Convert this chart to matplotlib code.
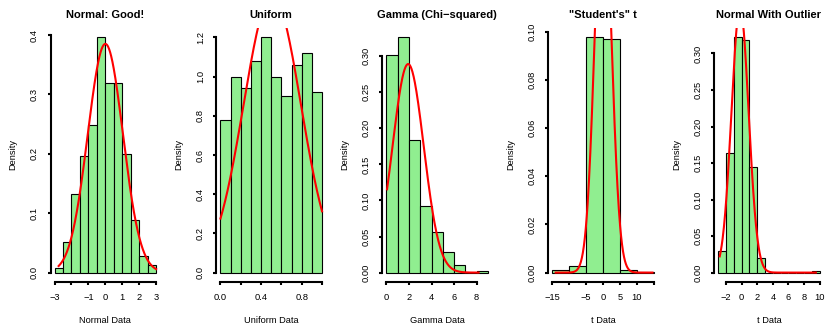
"""Five histograms with fitted normal curves, R base-graphics look."""
import numpy as np
import matplotlib

matplotlib.use("Agg")
import matplotlib.pyplot as plt  # noqa: E402

plt.rcParams["font.family"] = ["Liberation Sans", "DejaVu Sans"]

MINUS = "\u2212"

titles = ["Normal: Good!", "Uniform", f"Gamma (Chi{MINUS}squared)", "\"Student's\" t", "Normal With Outlier"]
xlabels = ["Normal Data", "Uniform Data", "Gamma Data", "t Data", "t Data"]

# bin edges and density heights
normal_edges = [-3, -2.5, -2, -1.5, -1, -0.5, 0, 0.5, 1, 1.5, 2, 2.5, 3]
normal_dens = [0.008, 0.052, 0.132, 0.196, 0.248, 0.396, 0.32, 0.32, 0.2, 0.088, 0.028, 0.012]
uniform_edges = [0, 0.1, 0.2, 0.3, 0.4, 0.5, 0.6, 0.7, 0.8, 0.9, 1.0]
uniform_dens = [0.78, 1.0, 0.94, 1.08, 1.2, 1.0, 0.9, 1.06, 1.12, 0.92]
gamma_edges = [0, 1, 2, 3, 4, 5, 6, 7, 8, 9]
gamma_dens = [0.302, 0.326, 0.184, 0.092, 0.056, 0.028, 0.01, 0.0, 0.002]
t_edges = [-15, -10, -5, 0, 5, 10, 15]
t_dens = [0.0012, 0.0028, 0.0976, 0.0968, 0.0012, 0.0004]
outlier_edges = [-3, -2, -1, 0, 1, 2, 3, 4, 5, 6, 7, 8, 9, 10]
outlier_dens = [0.03, 0.164, 0.322, 0.318, 0.144, 0.02, 0, 0, 0, 0, 0, 0, 0.002]

# fitted normal: sample mean, sample sd, data min, data max
fit_mean = [0.0, 0.51, 1.93, 0.0, -0.2]
fit_sd = [1.036, 0.282, 1.38, 2.44, 1.1]
data_min = [-2.76, 0.0, 0.06, -14.0, -2.8]
data_max = [3.0, 1.0, 8.17, 14.6, 9.5]

# axis ticks and the labels R kept after dropping overlaps
xticks = [
    [-3, -2, -1, 0, 1, 2, 3],
    [0, 0.2, 0.4, 0.6, 0.8, 1.0],
    [0, 2, 4, 6, 8],
    [-15, -10, -5, 0, 5, 10, 15],
    [-2, 0, 2, 4, 6, 8, 10],
]
xticklabels = [
    [f"{MINUS}3", "", f"{MINUS}1", "0", "1", "2", "3"],
    ["0.0", "", "0.4", "", "0.8", ""],
    ["0", "2", "4", "6", "8"],
    [f"{MINUS}15", "", f"{MINUS}5", "0", "5", "10", ""],
    [f"{MINUS}2", "0", "2", "4", "6", "8", "10"],
]
yticks = [
    [0.0, 0.1, 0.2, 0.3, 0.4],
    [0.0, 0.2, 0.4, 0.6, 0.8, 1.0, 1.2],
    [0.0, 0.05, 0.10, 0.15, 0.20, 0.25, 0.30],
    [0.0, 0.02, 0.04, 0.06, 0.08, 0.10],
    [0.0, 0.05, 0.10, 0.15, 0.20, 0.25, 0.30],
]
ytick_fmt = ["{:.1f}", "{:.1f}", "{:.2f}", "{:.2f}", "{:.2f}"]

edges_all = [normal_edges, uniform_edges, gamma_edges, t_edges, outlier_edges]
dens_all = [normal_dens, uniform_dens, gamma_dens, t_dens, outlier_dens]


def norm_pdf(x, mu, sd):
    return np.exp(-0.5 * ((x - mu) / sd) ** 2) / (sd * np.sqrt(2 * np.pi))


def r_range(lo, hi):
    # R's default 4% axis extension
    pad = (hi - lo) * 0.04
    return lo - pad, hi + pad


W, H = 826, 326
fig = plt.figure(figsize=(W / 100, H / 100), dpi=100)

for i in range(5):
    left = (50.5 + 165.9 * i) / W
    ax = fig.add_axes([left, (H - 282) / H, 109.7 / W, 254 / H])
    edges = np.array(edges_all[i], dtype=float)
    dens = np.array(dens_all[i], dtype=float)
    ax.bar(edges[:-1], dens, width=np.diff(edges), align="edge",
           color="#90EE90", edgecolor="black", linewidth=0.8, zorder=2)

    xs = np.linspace(data_min[i], data_max[i], 300)
    ax.plot(xs, norm_pdf(xs, fit_mean[i], fit_sd[i]), color="red", lw=1.5, zorder=3)

    ax.set_xlim(*r_range(edges[0], edges[-1]))
    ax.set_ylim(*r_range(0, dens.max()))

    for side in ("top", "right"):
        ax.spines[side].set_visible(False)
    for side in ("left", "bottom"):
        ax.spines[side].set_linewidth(1.5)
    ax.spines["bottom"].set_bounds(xticks[i][0], xticks[i][-1])
    ax.spines["left"].set_bounds(yticks[i][0], yticks[i][-1])

    ax.set_xticks(xticks[i])
    ax.set_xticklabels(xticklabels[i])
    ax.set_yticks(yticks[i])
    ax.set_yticklabels([ytick_fmt[i].format(v) for v in yticks[i]], rotation=90, va="center")
    ax.tick_params(axis="both", direction="out", length=2.2, width=1.5, labelsize=6.7)
    ax.tick_params(axis="x", pad=6.0)
    ax.tick_params(axis="y", pad=6.0)

    ax.set_title(titles[i], fontsize=8, fontweight="bold", pad=7.5)
    ax.set_xlabel(xlabels[i], fontsize=6.7, labelpad=10)
    ax.set_ylabel("Density", fontsize=6.7, labelpad=9)

fig.savefig("out.png", dpi=100)
